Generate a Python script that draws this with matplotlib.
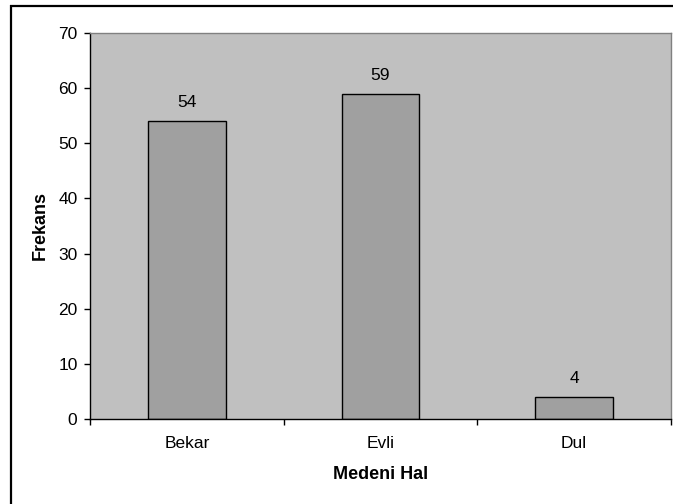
import matplotlib.pyplot as plt
from matplotlib.lines import Line2D
from matplotlib.ticker import FixedLocator, NullFormatter

plt.rcParams['font.family'] = ['Liberation Sans', 'DejaVu Sans']

categories = ['Bekar', 'Evli', 'Dul']
frekans = [54, 59, 4]

W, H = 673, 504
fig = plt.figure(figsize=(W / 100, H / 100), dpi=100, facecolor='white')
ax = fig.add_axes([90 / W, (H - 419) / H, 581 / W, 386 / H])
ax.set_facecolor('#c0c0c0')

pos = list(range(len(categories)))
bars = ax.bar(pos, frekans, width=0.4, color='#a0a0a0', edgecolor='black', linewidth=1.0, zorder=2)
ax.bar_label(bars, labels=[str(v) for v in frekans], padding=8, fontsize=12.5)

ax.set_xlim(-0.5, len(categories) - 0.5)
ax.set_ylim(0, 70)
ax.set_yticks(range(0, 71, 10))

# category boundaries get the tick marks, centres get the labels
ax.xaxis.set_major_locator(FixedLocator([-0.5, 0.5, 1.5, 2.5]))
ax.xaxis.set_major_formatter(NullFormatter())
ax.xaxis.set_minor_locator(FixedLocator(pos))
ax.set_xticks(pos, categories, minor=True)
ax.tick_params(axis='x', which='major', direction='out', length=4, width=1, color='black')
ax.tick_params(axis='x', which='minor', length=0, pad=12, labelsize=12.5)
ax.tick_params(axis='y', direction='out', length=4, width=1, pad=5, labelsize=12.5)

for side in ['top', 'right']:
    ax.spines[side].set_color('#808080')
    ax.spines[side].set_linewidth(1.0)
for side in ['left', 'bottom']:
    ax.spines[side].set_color('black')
    ax.spines[side].set_linewidth(1.0)

ax.set_ylabel('Frekans', fontsize=13, fontweight='bold', labelpad=7)
ax.set_xlabel('Medeni Hal', fontsize=13, fontweight='bold', labelpad=11)

# chart frame (only left and top edges fall inside the image)
fig.add_artist(Line2D([10.5 / W, 10.5 / W], [0, 1 - 5 / H], color='black', linewidth=1.6,
                      solid_capstyle='butt'))
fig.add_artist(Line2D([10 / W, 1], [1 - 5.5 / H, 1 - 5.5 / H], color='black', linewidth=1.6,
                      solid_capstyle='butt'))

fig.savefig('out.png', dpi=100, facecolor='white')
